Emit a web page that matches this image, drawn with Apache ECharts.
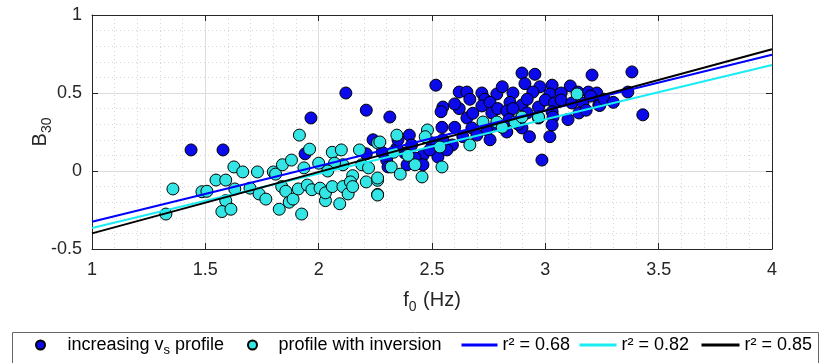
<!DOCTYPE html>
<html><head><meta charset="utf-8">
<script src="https://cdn.jsdelivr.net/npm/echarts@6/dist/echarts.min.js"></script>
<style>html,body{margin:0;padding:0;background:#fff}#c{width:819px;height:363px}</style>
</head><body><div id="c"></div>
<script>
// Axis ranges [min, max, step] and tick labels
const xRange = [1, 4, 0.5];
const yRange = [-0.5, 1, 0.5];
const xTickLabels = ['1', '1.5', '2', '2.5', '3', '3.5', '4'];
const yTickLabels = ['-0.5', '0', '0.5', '1'];

// Series names
const seriesNames = ['increasing vs profile', 'profile with inversion', 'r² = 0.68', 'r² = 0.82', 'r² = 0.85'];

// Increasing vs profile (blue points) [f0, B30]
const increasingPts = [
  [1.437,0.135],[1.578,0.135],[1.966,0.34],[2.12,0.5],[2.21,0.39],[1.94,0.11],[2.21,0.11],
  [2.897,0.628],[2.954,0.62],[3.206,0.615],[3.382,0.635],[2.517,0.55],[2.91,0.56],[2.976,0.54],[3.03,0.55],[3.11,0.545],
  [2.62,0.506],[2.654,0.506],[2.72,0.50],[2.786,0.494],[2.81,0.54],[2.667,0.46],[2.733,0.46],[2.857,0.50],[2.945,0.506],
  [3.02,0.494],[3.07,0.50],[3.144,0.506],[3.19,0.506],[3.227,0.50],[3.364,0.506],
  [2.548,0.41],[2.54,0.38],[2.72,0.417],[2.756,0.44],[2.764,0.372],[2.844,0.44],[2.897,0.423],[2.79,0.40],[2.83,0.385],
  [2.857,0.40],[2.92,0.46],[2.97,0.41],[3.0,0.455],[3.04,0.436],[3.07,0.455],[3.117,0.436],[3.166,0.436],[3.236,0.423],
  [3.148,0.372],[3.18,0.39],[3.03,0.38],[2.92,0.372],[2.97,0.34],[3.034,0.346],
  [2.314,0.346],[2.544,0.28],[2.40,0.23],[2.60,0.28],[2.654,0.34],[2.676,0.276],[2.742,0.263],[2.786,0.295],[2.83,0.25],
  [2.897,0.276],[3.03,0.295],[3.02,0.22],[2.985,0.07],[3.43,0.36],
  [2.548,0.20],[2.59,0.167],[2.41,0.167],[2.50,0.18],[2.566,0.135],[2.636,0.22],[2.698,0.23],[2.756,0.20],[2.38,0.115],
  [2.46,0.10],[2.526,0.09],[2.49,0.135],[2.345,0.147],[2.425,0.083],[2.46,0.04],[2.39,0.04],[2.30,0.07],[2.306,0.026],
  [3.24,0.42],[2.24,0.20],[2.28,0.12],[2.35,0.20],[2.62,0.40],[2.60,0.43],[2.68,0.37],[2.84,0.33],[2.88,0.30],[2.93,0.22],
  [3.1,0.33],[3.2,0.48],[3.26,0.46],[3.3,0.44]
];

// Profile with inversion (cyan points) [f0, B30]
const inversionPts = [
  [1.357,-0.115],[1.326,-0.276],[1.485,-0.133],[1.507,-0.13],[1.547,-0.058],[1.59,-0.058],[1.59,-0.19],[1.573,-0.26],
  [1.613,-0.245],[1.63,-0.115],[1.626,0.026],[1.665,-0.006],[1.697,-0.11],[1.73,-0.006],[1.737,-0.147],[1.767,-0.18],
  [1.80,-0.006],[1.81,-0.02],[1.826,-0.245],[1.84,0.04],[1.837,-0.10],[1.855,-0.13],[1.87,-0.20],[1.887,-0.18],[1.88,0.07],
  [1.91,-0.115],[1.925,-0.276],[1.95,-0.09],[1.96,0.14],[1.97,-0.12],[1.935,0.02],[2.006,-0.11],[2.03,-0.19],[2.03,-0.14],
  [2.06,-0.10],[2.06,0.12],[2.10,0.135],[2.107,-0.10],[2.093,-0.21],[2.107,0.04],[2.07,0.05],[2.13,-0.147],[2.15,-0.03],
  [2.14,-0.07],[2.15,-0.10],[2.18,0.135],[2.19,0.04],[2.21,-0.07],[2.22,0.02],[2.26,-0.06],[2.26,-0.15],[2.26,0.18],[1.915,0.23],
  [3.14,0.494],[2.725,0.314],[2.786,0.314],[2.866,0.314],[2.97,0.346],[2.81,0.28],[2.897,0.346],[2.667,0.167],[2.345,0.23],
  [2.27,0.186],[2.48,0.263],[2.47,0.22],[2.535,0.154],[2.544,0.026],[2.456,-0.038],[2.425,0.04],[2.394,0.10],[2.32,0.026],
  [2.26,-0.045],[2.26,-0.154],[2.0,0.05],[2.04,0.0],[2.36,-0.02],[2.33,0.12]
];

// Regression line end points
const fitIncreasing = [[1, -0.325], [4, 0.745]];
const fitInversion = [[1, -0.365], [4, 0.68]];
const fitAll = [[1, -0.40], [4, 0.78]];

const FONT = 'Liberation Sans, Arial, Helvetica, sans-serif';
const AX = '#262626';
const chart = echarts.init(document.getElementById('c'));

function tickFmt(labels, range) {
  return v => labels[Math.round((v - range[0]) / range[2])] ?? '';
}
const baseX = {
  type: 'value', min: xRange[0], max: xRange[1], interval: xRange[2],
  axisLine: { show: true, onZero: false, lineStyle: { color: AX, width: 1 } },
  axisTick: { show: true, inside: true, length: 6, lineStyle: { color: AX } }
};
const baseY = {
  type: 'value', min: yRange[0], max: yRange[1], interval: yRange[2],
  axisLine: { show: true, onZero: false, lineStyle: { color: AX, width: 1 } },
  axisTick: { show: true, inside: true, length: 6, lineStyle: { color: AX } }
};

const hideSym = { color: 'rgba(0,0,0,0)', borderWidth: 0, opacity: 0 };
const legendRich = {
  t: { fontSize: 18, fontFamily: FONT, color: '#000', lineHeight: 24 },
  s: { fontSize: 13, fontFamily: FONT, color: '#000', lineHeight: 14, verticalAlign: 'bottom' }
};
function legendItem(idx, left, iw, isLine, padLeft) {
  return {
    left: left, top: 336, padding: 0, orient: 'horizontal', selectedMode: false,
    itemWidth: iw, itemHeight: 9,
    data: [isLine ? { name: seriesNames[idx], itemStyle: hideSym, lineStyle: { width: 3 } } : { name: seriesNames[idx] }],
    formatter: name => {
      const pre = padLeft ? '{p|}' : '';
      return name === seriesNames[0] ? pre + '{t|increasing v}{s|s}{t| profile}' : pre + '{t|' + name + '}';
    },
    textStyle: { color: '#000', fontSize: 18, fontFamily: FONT,
      rich: Object.assign({ p: { width: padLeft || 0, lineHeight: 24 } }, legendRich) }
  };
}

chart.setOption({
  animation: false,
  backgroundColor: '#fff',
  grid: { left: 92, right: 47, top: 15, bottom: 114 },
  graphic: [{
    type: 'rect', silent: true, z: 0,
    shape: { x: 12.5, y: 332.5, width: 806, height: 40 },
    style: { fill: '#fff', stroke: '#666', lineWidth: 1 }
  }],
  xAxis: [
    Object.assign({}, baseX, {
      position: 'bottom',
      name: '{a|f}{s|0}{a| (Hz)}', nameLocation: 'middle', nameGap: 37,
      nameTextStyle: { rich: {
        a: { fontSize: 20, fontFamily: FONT, color: AX },
        s: { fontSize: 14, fontFamily: FONT, color: AX, padding: [14, 1, 0, 0] }
      } },
      axisLabel: { color: AX, fontSize: 18, fontFamily: FONT, margin: 12, formatter: tickFmt(xTickLabels, xRange) },
      splitLine: { show: true, lineStyle: { color: '#dcdcdc', width: 1 } },
      minorTick: { show: false, splitNumber: 5 },
      minorSplitLine: { show: true, lineStyle: { color: '#d6d6d6', width: 1, type: [1, 3] } }
    }),
    Object.assign({}, baseX, { position: 'top', axisLabel: { show: false }, splitLine: { show: false } })
  ],
  yAxis: [
    Object.assign({}, baseY, {
      position: 'left',
      name: '{a|B}{s|30}', nameLocation: 'middle', nameGap: 38, nameRotate: 90, nameMoveOverlap: false,
      nameTextStyle: { rich: {
        a: { fontSize: 20, fontFamily: FONT, color: AX },
        s: { fontSize: 14, fontFamily: FONT, color: AX, padding: [14, 0, 0, 0] }
      } },
      axisLabel: { color: AX, fontSize: 18, fontFamily: FONT, margin: 10, formatter: tickFmt(yTickLabels, yRange) },
      splitLine: { show: true, lineStyle: { color: '#dcdcdc', width: 1 } },
      minorTick: { show: false, splitNumber: 5 },
      minorSplitLine: { show: true, lineStyle: { color: '#d6d6d6', width: 1, type: [1, 3] } }
    }),
    Object.assign({}, baseY, { position: 'right', axisLabel: { show: false }, splitLine: { show: false } })
  ],
  legend: [
    legendItem(0, 35, 10, false, 17),
    legendItem(1, 247, 10, false, 16),
    legendItem(2, 460, 36, true, 0),
    legendItem(3, 578, 37, true, 0),
    legendItem(4, 700, 38, true, 0)
  ],
  series: [
    { name: seriesNames[0], type: 'scatter', data: increasingPts, symbol: 'circle', symbolSize: 12,
      itemStyle: { color: '#0a0aeb', borderColor: '#000', borderWidth: 1, opacity: 1 } },
    { name: seriesNames[1], type: 'scatter', data: inversionPts, symbol: 'circle', symbolSize: 12,
      itemStyle: { color: '#33e5e5', borderColor: '#000', borderWidth: 1, opacity: 1 } },
    { name: seriesNames[2], type: 'line', data: fitIncreasing, showSymbol: false, symbol: 'none', z: 5,
      lineStyle: { color: '#0000ff', width: 2 }, itemStyle: { color: '#0000ff' } },
    { name: seriesNames[3], type: 'line', data: fitInversion, showSymbol: false, symbol: 'none', z: 5,
      lineStyle: { color: '#19ecf2', width: 2 }, itemStyle: { color: '#19ecf2' } },
    { name: seriesNames[4], type: 'line', data: fitAll, showSymbol: false, symbol: 'none', z: 5,
      lineStyle: { color: '#000', width: 2 }, itemStyle: { color: '#000' } }
  ]
});
</script></body></html>
